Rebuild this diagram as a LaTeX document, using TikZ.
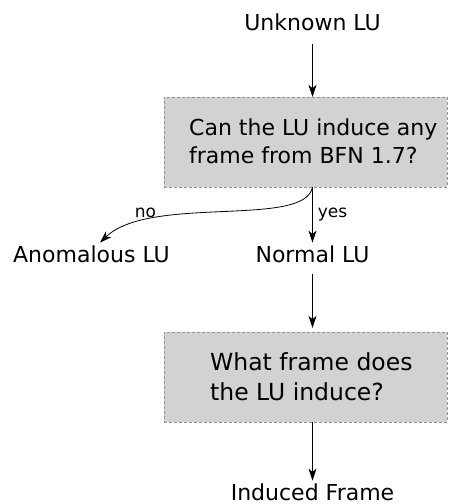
\documentclass[tikz,border=0pt]{standalone}
\usepackage{fontspec}
\setmainfont{DejaVu Sans}
\usepackage{tikz}
\usetikzlibrary{arrows.meta,positioning}
\definecolor{boxfill}{RGB}{210,210,210}
\definecolor{boxline}{RGB}{150,146,146}
\tikzset{
question/.style={
    rectangle,
    draw=boxline,
    dash pattern=on 3pt off 2pt,
    fill=boxfill,
    minimum width=283pt,
    minimum height=90pt,
    inner sep=0pt
},
qtext/.style={
    align=left,
    inner sep=0pt,
    anchor=base west
},
outcome/.style={
    font=\fontsize{22}{26}\selectfont,
    inner sep=3pt,
    anchor=base
},
descr/.style={
    font=\fontsize{17}{20}\selectfont,
    inner sep=0pt
},
connector/.style={
    -{Stealth[length=12pt,width=8pt,inset=3.5pt]},
    line width=0.8pt
}
}

\begin{document}
\begin{tikzpicture}[x=1pt,y=1pt]
\useasboundingbox (0,0) rectangle (449,504);

\node[outcome] (unknown) at (312.5,473) {Unknown LU};
\node[question] (q1box) at (305.5,362) {};
\node[qtext, font=\fontsize{22}{28.5}\selectfont] (q1) at (189,340) {Can the LU induce any\\frame from BFN 1.7?};
\node[outcome] (normal) at (312.5,241.5) {Normal LU};
\node[outcome] (anomalous) at (91.5,241.5) {Anomalous LU};
\node[question] (q2box) at (305.5,127) {};
\node[qtext, font=\fontsize{23.5}{30}\selectfont] (q2) at (210,103) {What frame does\\the LU induce?};
\node[outcome] (induced) at (312.5,3.5) {Induced Frame};

\draw[connector, shorten <=9pt] (unknown.south) -- (q1box.north -| unknown);
\draw[connector] (q1box.south -| normal) -- node[descr, right=5pt] {yes} (normal.north);
\draw[connector] (q1box.south -| normal) .. controls +(-8,-41) and +(50,48) .. ([xshift=8.5pt]anomalous.north) node[descr, pos=0.78, above=3pt] {no};
\draw[connector, shorten <=7.5pt, shorten >=4pt] (normal.south) -- (q2box.north -| normal);
\draw[connector] (q2box.south -| induced) -- (induced.north);

\end{tikzpicture}
\end{document}
